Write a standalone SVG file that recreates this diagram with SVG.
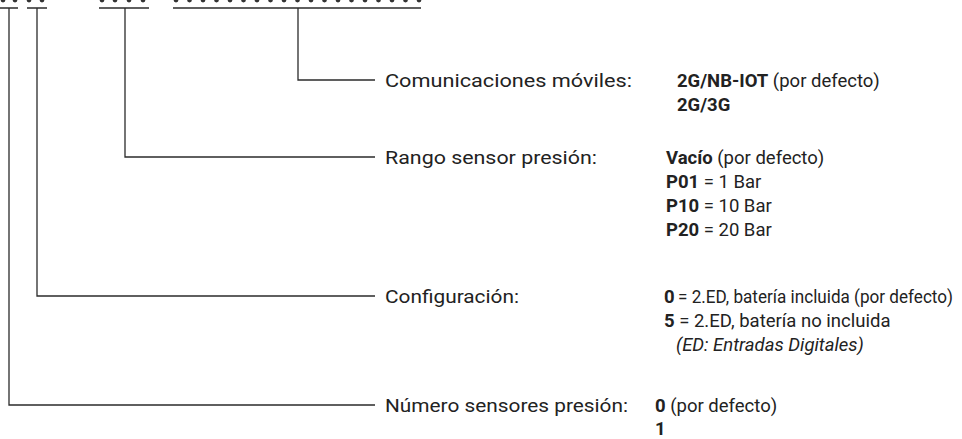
<svg xmlns="http://www.w3.org/2000/svg" width="962" height="439" viewBox="0 0 962 439">
<style>
.ln{fill:none;stroke:#2b2b2b;stroke-width:1.3}
.t{font-family:Roboto,"Liberation Sans",sans-serif;font-size:18.5px;fill:#222}
.b{font-weight:bold}
.i{font-style:italic}
.dot{fill:#333}
</style>
<rect width="962" height="439" fill="#fff"/>
<g id="code-top">
<g class="dot">
<ellipse cx="3" cy="0" rx="2.4" ry="2.4"/><ellipse cx="15" cy="0" rx="2.4" ry="2.4"/>
<ellipse cx="29" cy="0" rx="2.4" ry="2.4"/><ellipse cx="42" cy="0" rx="2.4" ry="2.4"/>
<ellipse cx="102" cy="0" rx="2.4" ry="2.4"/><ellipse cx="115" cy="0" rx="2.4" ry="2.4"/><ellipse cx="129" cy="0" rx="2.4" ry="2.4"/><ellipse cx="143" cy="0" rx="2.4" ry="2.4"/>
<ellipse cx="176" cy="0" rx="2.4" ry="2.4"/><ellipse cx="189.5" cy="0" rx="2.4" ry="2.4"/><ellipse cx="203" cy="0" rx="2.4" ry="2.4"/><ellipse cx="216.5" cy="0" rx="2.4" ry="2.4"/><ellipse cx="230" cy="0" rx="2.4" ry="2.4"/><ellipse cx="243.5" cy="0" rx="2.4" ry="2.4"/><ellipse cx="257" cy="0" rx="2.4" ry="2.4"/><ellipse cx="270.5" cy="0" rx="2.4" ry="2.4"/><ellipse cx="284" cy="0" rx="2.4" ry="2.4"/><ellipse cx="297.5" cy="0" rx="2.4" ry="2.4"/><ellipse cx="311" cy="0" rx="2.4" ry="2.4"/><ellipse cx="324.5" cy="0" rx="2.4" ry="2.4"/><ellipse cx="338" cy="0" rx="2.4" ry="2.4"/><ellipse cx="351.5" cy="0" rx="2.4" ry="2.4"/><ellipse cx="365" cy="0" rx="2.4" ry="2.4"/><ellipse cx="378.5" cy="0" rx="2.4" ry="2.4"/><ellipse cx="392" cy="0" rx="2.4" ry="2.4"/><ellipse cx="405.5" cy="0" rx="2.4" ry="2.4"/><ellipse cx="419" cy="0" rx="2.4" ry="2.4"/>
</g>
<path class="ln" d="M0 8H18M27 8H47M99 8H149M173 8H421"/>
</g>
<g id="connectors">
<path class="ln" d="M298 8V80H375"/>
<path class="ln" d="M125 8V157H375"/>
<path class="ln" d="M37 8V296H375"/>
<path class="ln" d="M9 8V405H375"/>
</g>
<g id="comunicaciones">
<text class="t" x="385" y="86.5" textLength="247" lengthAdjust="spacingAndGlyphs">Comunicaciones móviles:</text>
<text class="t" x="677" y="86.5"><tspan class="b">2G/NB-IOT</tspan> (por defecto)</text>
<text class="t b" x="677" y="111">2G/3G</text>
</g>
<g id="rango">
<text class="t" x="385" y="163.5" textLength="212" lengthAdjust="spacingAndGlyphs">Rango sensor presión:</text>
<text class="t" x="666" y="163.5"><tspan class="b">Vacío</tspan> (por defecto)</text>
<text class="t" x="666" y="187.5"><tspan class="b">P01</tspan> = 1 Bar</text>
<text class="t" x="666" y="211.5"><tspan class="b">P10</tspan> = 10 Bar</text>
<text class="t" x="666" y="235.5"><tspan class="b">P20</tspan> = 20 Bar</text>
</g>
<g id="configuracion">
<text class="t" x="385" y="302.5" textLength="134" lengthAdjust="spacingAndGlyphs">Configuración:</text>
<text class="t b" x="664" y="302.5">0</text>
<text class="t" x="678" y="302.5" textLength="275" lengthAdjust="spacingAndGlyphs">= 2.ED, batería incluida (por defecto)</text>
<text class="t" x="664" y="326.5"><tspan class="b">5</tspan> = 2.ED, batería no incluida</text>
<text class="t i" x="676" y="350.5">(ED: Entradas Digitales)</text>
</g>
<g id="numero">
<text class="t" x="385" y="411.5" textLength="243" lengthAdjust="spacingAndGlyphs">Número sensores presión:</text>
<text class="t" x="655" y="411.5"><tspan class="b">0</tspan> (por defecto)</text>
<text class="t b" x="655" y="434.5">1</text>
</g>
</svg>
